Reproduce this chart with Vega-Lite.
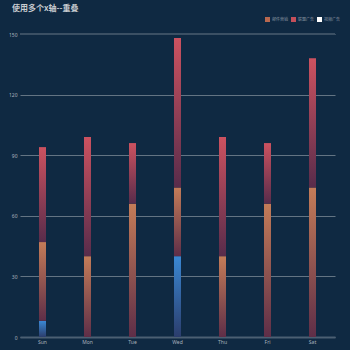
{
  "$schema": "https://vega.github.io/schema/vega-lite/v6.json",
  "width": 315,
  "height": 303,
  "autosize": "none",
  "padding": {"left": 20, "top": 34, "right": 15, "bottom": 13},
  "background": "#0f2942",
  "title": {
    "text": "使用多个x轴--重叠",
    "anchor": "start",
    "frame": "group",
    "dx": -8,
    "offset": 4,
    "fontSize": 8,
    "fontWeight": "bold",
    "color": "#c8ccd0",
    "font": "Noto Sans CJK SC"
  },
  "config": {
    "view": {"stroke": null},
    "axis": {"labelFont": "Noto Sans", "labelFontSize": 5, "labelColor": "#a9b3bd"},
    "legend": {"labelFont": "Noto Sans CJK SC"}
  },
  "data": {
    "values": [
      {"day": "Sun", "series": "视频广告", "order": 0, "value": 8},
      {"day": "Mon", "series": "视频广告", "order": 0, "value": 0},
      {"day": "Tue", "series": "视频广告", "order": 0, "value": 0},
      {"day": "Wed", "series": "视频广告", "order": 0, "value": 40},
      {"day": "Thu", "series": "视频广告", "order": 0, "value": 0},
      {"day": "Fri", "series": "视频广告", "order": 0, "value": 0},
      {"day": "Sat", "series": "视频广告", "order": 0, "value": 0},
      {"day": "Sun", "series": "邮件营销", "order": 1, "value": 39},
      {"day": "Mon", "series": "邮件营销", "order": 1, "value": 40},
      {"day": "Tue", "series": "邮件营销", "order": 1, "value": 66},
      {"day": "Wed", "series": "邮件营销", "order": 1, "value": 34},
      {"day": "Thu", "series": "邮件营销", "order": 1, "value": 40},
      {"day": "Fri", "series": "邮件营销", "order": 1, "value": 66},
      {"day": "Sat", "series": "邮件营销", "order": 1, "value": 74},
      {"day": "Sun", "series": "联盟广告", "order": 2, "value": 47},
      {"day": "Mon", "series": "联盟广告", "order": 2, "value": 59},
      {"day": "Tue", "series": "联盟广告", "order": 2, "value": 30},
      {"day": "Wed", "series": "联盟广告", "order": 2, "value": 74},
      {"day": "Thu", "series": "联盟广告", "order": 2, "value": 59},
      {"day": "Fri", "series": "联盟广告", "order": 2, "value": 30},
      {"day": "Sat", "series": "联盟广告", "order": 2, "value": 64}
    ]
  },
  "transform": [
    {"stack": "value", "groupby": ["day"], "sort": [{"field": "order", "order": "ascending"}], "as": ["v0", "v1"]}
  ],
  "encoding": {
    "x": {"field": "day", "type": "nominal", "sort": ["Sun", "Mon", "Tue", "Wed", "Thu", "Fri", "Sat"],
          "scale": {"paddingInner": 0, "paddingOuter": 0},
          "axis": {"orient": "bottom", "title": null, "labelAngle": 0, "ticks": false, "domainColor": "#4b5f72", "domainWidth": 2, "labelPadding": 2}},
    "y": {"field": "v0", "type": "quantitative",
          "scale": {"domain": [0, 150], "nice": false},
          "axis": {"values": [0, 30, 60, 90, 120, 150], "title": null, "domain": false, "ticks": false, "labelPadding": 3,
                   "gridColor": "#8794a0", "gridOpacity": 0.7, "gridWidth": 1}}
  },
  "layer": [
    {
      "mark": {"type": "rule", "color": "#3b5064", "strokeWidth": 2},
      "encoding": {"x": null, "y": {"datum": 150}}
    },
    {
      "mark": {"type": "square", "opacity": 0, "size": 10},
      "encoding": {
        "y": {"field": "v1", "type": "quantitative"},
        "color": {"field": "series", "type": "nominal",
                  "scale": {"domain": ["邮件营销", "联盟广告", "视频广告"], "range": ["#b8684f", "#c44f5a", "#ffffff"]},
                  "legend": {"orient": "none", "legendX": 245, "legendY": -17, "direction": "horizontal", "title": null,
                             "symbolType": "square", "symbolSize": 25, "symbolOpacity": 1, "symbolStrokeWidth": 0,
                             "labelFontSize": 4, "labelColor": "#8c97a2", "columnPadding": 3, "symbolOffset": 0, "labelOffset": 2}}
      }
    },
    {
      "transform": [{"filter": "datum.series === '视频广告' && datum.value > 0"}],
      "mark": {"type": "bar", "size": 7,
               "color": {"gradient": "linear", "x1": 0, "y1": 0, "x2": 0, "y2": 1,
                         "stops": [{"offset": 0, "color": "#3a88d4"}, {"offset": 1, "color": "#2b3d6c"}]}},
      "encoding": {"y2": {"field": "v1"}}
    },
    {
      "transform": [{"filter": "datum.series === '邮件营销'"}],
      "mark": {"type": "bar", "size": 7,
               "color": {"gradient": "linear", "x1": 0, "y1": 0, "x2": 0, "y2": 1,
                         "stops": [{"offset": 0, "color": "#c47c58"}, {"offset": 1, "color": "#5e2e48"}]}},
      "encoding": {"y2": {"field": "v1"}}
    },
    {
      "transform": [{"filter": "datum.series === '联盟广告'"}],
      "mark": {"type": "bar", "size": 7,
               "color": {"gradient": "linear", "x1": 0, "y1": 0, "x2": 0, "y2": 1,
                         "stops": [{"offset": 0, "color": "#cc5260"}, {"offset": 1, "color": "#582c4b"}]}},
      "encoding": {"y2": {"field": "v1"}}
    }
  ]
}
